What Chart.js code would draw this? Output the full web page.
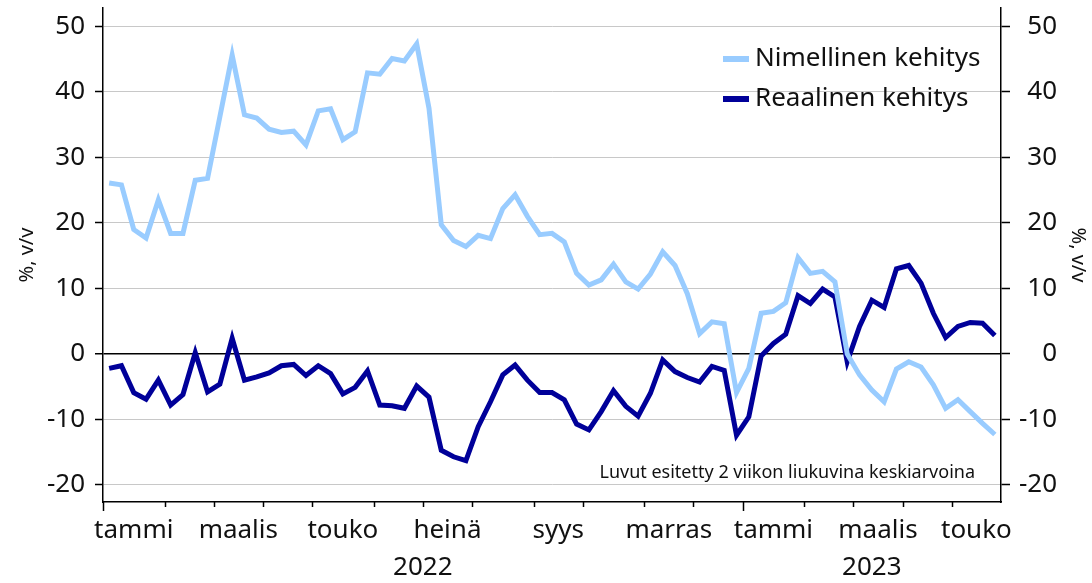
<!DOCTYPE html>
<html>
<head>
<meta charset="utf-8">
<script src="https://cdn.jsdelivr.net/npm/chart.js@4/dist/chart.umd.min.js"></script>
<style>
  html, body { margin: 0; padding: 0; background: #fff; }
  #wrap { width: 1092px; height: 583px; }
</style>
</head>
<body>
<div id="wrap"><canvas id="chart"></canvas></div>
<script>
// Weekly categories, 2022 week 1 ... 2023 week 21
var weeks = [
  '1/22','2/22','3/22','4/22','5/22','6/22','7/22','8/22','9/22','10/22',
  '11/22','12/22','13/22','14/22','15/22','16/22','17/22','18/22','19/22','20/22',
  '21/22','22/22','23/22','24/22','25/22','26/22','27/22','28/22','29/22','30/22',
  '31/22','32/22','33/22','34/22','35/22','36/22','37/22','38/22','39/22','40/22',
  '41/22','42/22','43/22','44/22','45/22','46/22','47/22','48/22','49/22','50/22',
  '51/22','52/22',
  '1/23','2/23','3/23','4/23','5/23','6/23','7/23','8/23','9/23','10/23',
  '11/23','12/23','13/23','14/23','15/23','16/23','17/23','18/23','19/23','20/23',
  '21/23'
];

var nimellinen = [
  26.1, 25.8, 19.0, 17.7, 23.5, 18.4, 18.4, 26.5, 26.8, 36.2,
  45.6, 36.5, 36.0, 34.3, 33.8, 34.0, 31.9, 37.1, 37.4, 32.7,
  33.9, 42.9, 42.7, 45.1, 44.7, 47.3, 37.5, 19.7, 17.3, 16.4,
  18.1, 17.6, 22.2, 24.3, 21.0, 18.2, 18.4, 17.1, 12.3, 10.5,
  11.3, 13.7, 11.0, 9.9, 12.2, 15.6, 13.5, 9.2, 3.1, 4.9,
  4.6, -5.9, -2.2, 6.2, 6.5, 7.8, 14.7, 12.3, 12.6, 11.0,
  0.0, -3.2, -5.5, -7.3, -2.3, -1.2, -2.0, -4.7, -8.3, -7.0,
  -8.8, -10.6, -12.3
];

var reaalinen = [
  -2.2, -1.8, -5.9, -6.9, -4.0, -7.8, -6.2, 0.2, -5.8, -4.6,
  2.4, -4.0, -3.5, -2.9, -1.8, -1.6, -3.3, -1.8, -3.0, -6.1,
  -5.1, -2.6, -7.8, -7.9, -8.3, -4.9, -6.6, -14.7, -15.7, -16.3,
  -11.1, -7.3, -3.2, -1.7, -4.0, -5.9, -5.9, -7.0, -10.7, -11.6,
  -8.8, -5.6, -8.0, -9.5, -6.0, -0.9, -2.7, -3.6, -4.3, -1.9,
  -2.5, -12.4, -9.6, -0.3, 1.6, 3.0, 8.9, 7.7, 9.9, 8.7,
  -1.2, 4.2, 8.2, 7.1, 13.0, 13.5, 10.8, 6.2, 2.5, 4.2,
  4.8, 4.7, 2.8
];

// first week index of every month, and the month names shown (every other month)
var monthStarts = [0, 5, 9, 13, 17, 22, 26, 30, 35, 39, 44, 48, 52, 57, 61, 65, 69];
var monthNames = ['tammi', '', 'maalis', '', 'touko', '', 'heinä', '', 'syys', '',
                  'marras', '', 'tammi', '', 'maalis', '', 'touko'];
var yearStarts = [0, 52];
var yearNames = ['2022', '2023'];

var yTicks = [-20, -10, 0, 10, 20, 30, 40, 50];
var seriesNames = ['Nimellinen kehitys', 'Reaalinen kehitys'];
var note = 'Luvut esitetty 2 viikon liukuvina keskiarvoina';

var FONT = '"Noto Sans", "Open Sans", sans-serif';
var LIGHT = '#99ccff';
var DARK = '#000099';

/**
 * Month ticks, month and year labels, legend and the note.
 */
var extrasPlugin = {
    id: 'extras',
    afterDraw: function(chart) {
        var ctx = chart.ctx;
        var xs = chart.scales.x;
        var area = chart.chartArea;
        var edge = function(k) { return xs.getPixelForValue(k - 0.5); };

        ctx.save();
        ctx.strokeStyle = '#000';
        ctx.lineWidth = 1.5;

        // tick marks at month boundaries
        monthStarts.forEach(function(k) {
            var x = Math.round(edge(k)) + 0.5;
            var len = yearStarts.indexOf(k) >= 0 ? 9 : 5;
            ctx.beginPath();
            ctx.moveTo(x, area.bottom);
            ctx.lineTo(x, area.bottom + len);
            ctx.stroke();
        });

        // month labels centred in their month
        ctx.fillStyle = '#111';
        ctx.textAlign = 'center';
        ctx.textBaseline = 'middle';
        ctx.font = '26px ' + FONT;
        monthNames.forEach(function(name, i) {
            if (!name) return;
            var end = i + 1 < monthStarts.length ? monthStarts[i + 1] : weeks.length;
            ctx.fillText(name, (edge(monthStarts[i]) + edge(end)) / 2, area.bottom + 29);
        });

        // year labels centred in their year
        yearNames.forEach(function(name, i) {
            var end = i + 1 < yearStarts.length ? yearStarts[i + 1] : weeks.length;
            ctx.fillText(name, (edge(yearStarts[i]) + edge(end)) / 2, area.bottom + 66);
        });

        // legend
        ctx.textAlign = 'left';
        chart.data.datasets.forEach(function(ds, i) {
            var y = 59 + i * 40;
            ctx.strokeStyle = ds.borderColor;
            ctx.lineWidth = 6;
            ctx.beginPath();
            ctx.moveTo(723, y);
            ctx.lineTo(749, y);
            ctx.stroke();
            ctx.fillText(ds.label, 755, y);
        });

        // note
        ctx.font = '18px ' + FONT;
        ctx.textAlign = 'right';
        ctx.fillText(note, 975, 473);
        ctx.restore();
    }
};

function noPadY(s, w) {
    s.width = w;
    s.paddingTop = 0;
    s.paddingBottom = 0;
}

var ctx = document.getElementById('chart').getContext('2d');
var chart = new Chart(ctx, {
    type: 'line',
    data: {
        labels: weeks,
        datasets: [{
            label: seriesNames[0],
            data: nimellinen,
            borderColor: LIGHT,
            borderWidth: 5,
            pointRadius: 0,
            tension: 0,
            yAxisID: 'y'
        }, {
            label: seriesNames[1],
            data: reaalinen,
            borderColor: DARK,
            borderWidth: 5,
            pointRadius: 0,
            tension: 0,
            yAxisID: 'y'
        }]
    },
    options: {
        responsive: true,
        maintainAspectRatio: false,
        animation: false,
        events: [],
        layout: { padding: { top: 8, right: 35, left: 0, bottom: 0 } },
        plugins: {
            legend: { display: false },
            tooltip: { enabled: false }
        },
        scales: {
            x: {
                type: 'category',
                offset: true,
                ticks: { display: false },
                grid: { display: true, drawOnChartArea: false, drawTicks: false },
                border: { display: true, color: '#000', width: 1.5 },
                afterFit: function(s) { s.height = 81; s.paddingLeft = 0; s.paddingRight = 0; }
            },
            y: {
                position: 'left',
                min: -22.6,
                max: 52.8,
                afterBuildTicks: function(s) { s.ticks = yTicks.map(function(v) { return { value: v }; }); },
                ticks: {
                    padding: 10,
                    color: '#111',
                    font: { family: FONT, size: 26 }
                },
                grid: {
                    color: function(c) { return c.tick && c.tick.value === 0 ? '#000' : '#c8c8c8'; },
                    lineWidth: function(c) { return c.tick && c.tick.value === 0 ? 1.5 : 1; },
                    tickColor: '#000',
                    tickWidth: 1.5,
                    tickLength: 8
                },
                border: { display: true, color: '#000', width: 1.5 },
                title: {
                    display: true,
                    text: '%, v/v',
                    color: '#111',
                    font: { family: FONT, size: 20 },
                    padding: { top: 15, bottom: 0 }
                },
                afterFit: function(s) { noPadY(s, 103); }
            },
            y2: {
                position: 'right',
                min: -22.6,
                max: 52.8,
                afterBuildTicks: function(s) { s.ticks = yTicks.map(function(v) { return { value: v }; }); },
                ticks: {
                    crossAlign: 'far',
                    color: '#111',
                    font: { family: FONT, size: 26 }
                },
                grid: {
                    drawOnChartArea: false,
                    tickColor: '#000',
                    tickWidth: 1.5,
                    tickLength: 9
                },
                border: { display: true, color: '#000', width: 1.5 },
                title: {
                    display: true,
                    text: '%, v/v',
                    color: '#111',
                    font: { family: FONT, size: 20 },
                    padding: { top: -33, bottom: 0 }
                },
                afterFit: function(s) { noPadY(s, 56); }
            }
        }
    },
    plugins: [extrasPlugin]
});
</script>
</body>
</html>
